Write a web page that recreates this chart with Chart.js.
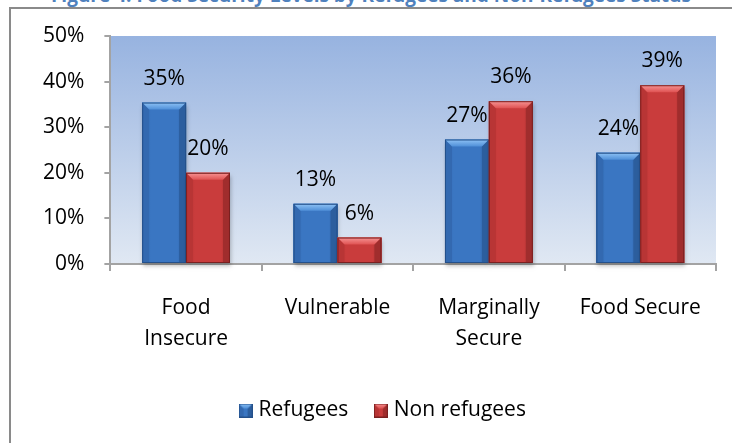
<!DOCTYPE html>
<html><head><meta charset="utf-8">
<script src="https://cdn.jsdelivr.net/npm/chart.js@4.4.0/dist/chart.umd.min.js"></script>
<style>
html,body{margin:0;padding:0;background:#fff;overflow:hidden;width:732px;height:443px;}
#frame{position:absolute;left:9px;top:7px;width:800px;height:500px;border-left:2px solid #8a8a8a;border-top:2px solid #8a8a8a;}
#title{position:absolute;left:0;top:-18px;width:742px;text-align:center;font:bold 19px "Open Sans";color:#4f81bd;white-space:nowrap;}
#wrap{position:absolute;left:0;top:0;width:732px;height:443px;}
</style></head><body>
<div id="frame"></div>
<div id="title">Figure 4: Food Security Levels by Refugees and Non-Refugees Status</div>
<div id="wrap"><canvas id="c"></canvas></div>
<script>
const categories = [['Food','Insecure'],['Vulnerable'],['Marginally','Secure'],['Food Secure']];
const seriesNames = ['Refugees','Non refugees'];
const refugees = [35.4, 13.2, 27.3, 24.4];
const nonRefugees = [20.0, 5.8, 35.7, 39.2];
const yTicks = [0, 10, 20, 30, 40, 50];

const FONT = 'Open Sans';
const FSIZE = 21;

const palette = [
  {main:'#3a76c2', light:'#8fc3f5', lightEnd:'#4f8fd8', left:'#3369b0', right:'#2c5e9e', edge:'#24508a'},
  {main:'#c93c3c', light:'#f79595', lightEnd:'#df5252', left:'#b83535', right:'#a02d2d', edge:'#7a2020'}
];

function bevel(ctx, left, top, right, bottom, p, b){
  const w = right-left;
  const g = ctx.createLinearGradient(left,0,right,0);
  g.addColorStop(0,p.left); g.addColorStop(0.2,p.main); g.addColorStop(0.8,p.main); g.addColorStop(1,p.right);
  ctx.fillStyle = g; ctx.fillRect(left,top,w,bottom-top);
  b = Math.min(b, (bottom-top)/2, w/2);
  ctx.fillStyle = p.left;
  ctx.beginPath(); ctx.moveTo(left,top); ctx.lineTo(left+b,top+b); ctx.lineTo(left+b,bottom); ctx.lineTo(left,bottom); ctx.closePath(); ctx.fill();
  ctx.fillStyle = p.right;
  ctx.beginPath(); ctx.moveTo(right,top); ctx.lineTo(right-b,top+b); ctx.lineTo(right-b,bottom); ctx.lineTo(right,bottom); ctx.closePath(); ctx.fill();
  const tg = ctx.createLinearGradient(0,top,0,top+b);
  tg.addColorStop(0,p.light); tg.addColorStop(1,p.lightEnd);
  ctx.fillStyle = tg;
  ctx.beginPath(); ctx.moveTo(left,top); ctx.lineTo(right,top); ctx.lineTo(right-b,top+b); ctx.lineTo(left+b,top+b); ctx.closePath(); ctx.fill();
  ctx.strokeStyle = p.edge; ctx.lineWidth = 1;
  ctx.strokeRect(left+0.5, top+0.5, w-1, bottom-top-1);
}

function legendIcon(p){
  const cv = document.createElement('canvas');
  cv.width = 14; cv.height = 14;
  bevel(cv.getContext('2d'), 0, 0, 14, 14, p, 5);
  return cv;
}

const bgPlugin = {
  id:'bg',
  beforeDraw(chart){
    const {ctx, chartArea:a} = chart;
    const g = ctx.createLinearGradient(0,a.top,0,a.bottom);
    g.addColorStop(0,'#97b3e0'); g.addColorStop(1,'#e0e8f3');
    ctx.save(); ctx.fillStyle = g; ctx.fillRect(a.left,a.top,a.right-a.left,a.bottom-a.top); ctx.restore();
  }
};

const legendShift = {
  id:'legendShift',
  afterLayout(chart){ chart.legend.left += 15; chart.legend.right += 15; }
};

const barPlugin = {
  id:'bevelbars',
  afterDatasetsDraw(chart){
    const ctx = chart.ctx;
    ctx.save();
    chart.data.datasets.forEach((ds,i)=>{
      const meta = chart.getDatasetMeta(i);
      meta.data.forEach(el=>{
        const {x,y,base,width} = el.getProps(['x','y','base','width'], true);
        ctx.save();
        ctx.shadowColor='rgba(0,0,0,0.25)'; ctx.shadowBlur=4; ctx.shadowOffsetY=3; ctx.shadowOffsetX=1;
        ctx.fillStyle = palette[i].main;
        ctx.fillRect(x-width/2, y, width, base-y);
        ctx.restore();
        bevel(ctx, x-width/2, y, x+width/2, base, palette[i], 7);
      });
    });
    ctx.fillStyle = '#000';
    ctx.font = FSIZE + 'px "' + FONT + '"';
    ctx.textAlign = 'center';
    ctx.textBaseline = 'alphabetic';
    chart.data.datasets.forEach((ds,i)=>{
      const meta = chart.getDatasetMeta(i);
      meta.data.forEach((el,j)=>{
        ctx.fillText(Math.round(ds.data[j])+'%', el.x, el.y-18);
      });
    });
    ctx.restore();
  }
};

const axisColor = '#a3a3a3';
new Chart(document.getElementById('c'), {
  type:'bar',
  data:{
    labels: categories,
    datasets:[
      {label:seriesNames[0], data:refugees, backgroundColor:palette[0].main, borderColor:palette[0].edge, borderWidth:0, pointStyle:legendIcon(palette[0])},
      {label:seriesNames[1], data:nonRefugees, backgroundColor:palette[1].main, borderColor:palette[1].edge, borderWidth:0, pointStyle:legendIcon(palette[1])}
    ]
  },
  options:{
    responsive:true, maintainAspectRatio:false, animation:false,
    datasets:{bar:{categoryPercentage:0.58, barPercentage:1.0}},
    layout:{padding:{left:23, right:16, top:36, bottom:12}},
    plugins:{
      tooltip:{enabled:false},
      title:{display:false},
      legend:{position:'bottom', labels:{usePointStyle:true, pointStyleWidth:5, color:'#000', font:{family:FONT, size:FSIZE}, padding:30}}
    },
    scales:{
      x:{
        afterFit: s => { s.height -= 6; },
        grid:{offset:true, drawOnChartArea:false, tickLength:7, color:axisColor, lineWidth:2},
        border:{color:axisColor, width:2},
        ticks:{color:'#000', font:{family:FONT, size:FSIZE, lineHeight:1.5}, padding:21, maxRotation:0, autoSkip:false}
      },
      y:{
        min:0, max:50,
        afterBuildTicks: s => { s.ticks = yTicks.map(v=>({value:v})); },
        grid:{drawOnChartArea:false, tickLength:6, color:axisColor, lineWidth:2},
        border:{color:axisColor, width:2},
        ticks:{color:'#000', font:{family:FONT, size:FSIZE}, padding:20, callback:v=>v+'%'}
      }
    }
  },
  plugins:[bgPlugin, barPlugin, legendShift]
});
</script>
</body></html>
